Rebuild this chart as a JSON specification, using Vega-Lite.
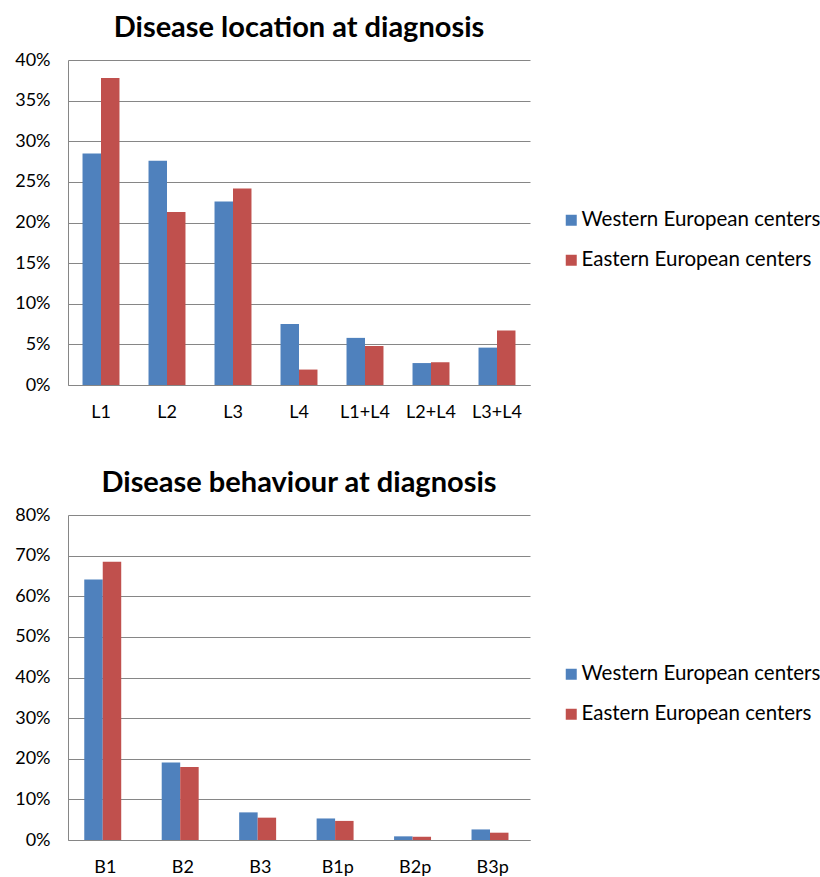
{
  "$schema": "https://vega.github.io/schema/vega-lite/v6.json",
  "background": "white",
  "padding": {"left": 14, "top": 14, "right": 0, "bottom": 0},
  "spacing": 48,
  "datasets": {
    "location": [
      {"site": "L1", "cohort": "Western European centers", "share": 28.5},
      {"site": "L1", "cohort": "Eastern European centers", "share": 37.8},
      {"site": "L2", "cohort": "Western European centers", "share": 27.6},
      {"site": "L2", "cohort": "Eastern European centers", "share": 21.3},
      {"site": "L3", "cohort": "Western European centers", "share": 22.6},
      {"site": "L3", "cohort": "Eastern European centers", "share": 24.2},
      {"site": "L4", "cohort": "Western European centers", "share": 7.5},
      {"site": "L4", "cohort": "Eastern European centers", "share": 1.9},
      {"site": "L1+L4", "cohort": "Western European centers", "share": 5.8},
      {"site": "L1+L4", "cohort": "Eastern European centers", "share": 4.8},
      {"site": "L2+L4", "cohort": "Western European centers", "share": 2.7},
      {"site": "L2+L4", "cohort": "Eastern European centers", "share": 2.8},
      {"site": "L3+L4", "cohort": "Western European centers", "share": 4.6},
      {"site": "L3+L4", "cohort": "Eastern European centers", "share": 6.7}
    ],
    "behaviour": [
      {"type": "B1", "cohort": "Western European centers", "share": 64.1},
      {"type": "B1", "cohort": "Eastern European centers", "share": 68.5},
      {"type": "B2", "cohort": "Western European centers", "share": 19.1},
      {"type": "B2", "cohort": "Eastern European centers", "share": 18.0},
      {"type": "B3", "cohort": "Western European centers", "share": 6.8},
      {"type": "B3", "cohort": "Eastern European centers", "share": 5.5},
      {"type": "B1p", "cohort": "Western European centers", "share": 5.3},
      {"type": "B1p", "cohort": "Eastern European centers", "share": 4.7},
      {"type": "B2p", "cohort": "Western European centers", "share": 0.9},
      {"type": "B2p", "cohort": "Eastern European centers", "share": 0.8},
      {"type": "B3p", "cohort": "Western European centers", "share": 2.6},
      {"type": "B3p", "cohort": "Eastern European centers", "share": 1.8}
    ]
  },
  "resolve": {"scale": {"color": "independent"}, "legend": {"color": "independent"}},
  "vconcat": [
    {
      "title": {"text": "Disease location at diagnosis"},
      "width": 462,
      "height": 325,
      "data": {"name": "location"},
      "mark": {"type": "bar"},
      "encoding": {
        "x": {
          "field": "site", "type": "nominal",
          "sort": ["L1", "L2", "L3", "L4", "L1+L4", "L2+L4", "L3+L4"],
          "scale": {"paddingInner": 0.44, "paddingOuter": 0.22},
          "axis": {"title": null, "labelAngle": 0, "ticks": false, "labelPadding": 18}
        },
        "xOffset": {
          "field": "cohort", "type": "nominal",
          "sort": ["Western European centers", "Eastern European centers"]
        },
        "y": {
          "field": "share", "type": "quantitative",
          "scale": {"domain": [0, 40], "nice": false},
          "axis": {"title": null, "values": [0, 5, 10, 15, 20, 25, 30, 35, 40], "labelExpr": "datum.value + '%'"}
        },
        "color": {
          "field": "cohort", "type": "nominal",
          "sort": ["Western European centers", "Eastern European centers"],
          "scale": {"range": ["#4F81BD", "#C0504D"]},
          "legend": {"title": null, "orient": "none", "legendX": 493, "legendY": 150}
        }
      }
    },
    {
      "title": {"text": "Disease behaviour at diagnosis"},
      "width": 462,
      "height": 325,
      "data": {"name": "behaviour"},
      "mark": {"type": "bar"},
      "encoding": {
        "x": {
          "field": "type", "type": "nominal",
          "sort": ["B1", "B2", "B3", "B1p", "B2p", "B3p"],
          "scale": {"paddingInner": 0.455, "paddingOuter": 0.21},
          "axis": {"title": null, "labelAngle": 0, "ticks": false, "labelPadding": 18}
        },
        "xOffset": {
          "field": "cohort", "type": "nominal",
          "sort": ["Western European centers", "Eastern European centers"]
        },
        "y": {
          "field": "share", "type": "quantitative",
          "scale": {"domain": [0, 80], "nice": false},
          "axis": {"title": null, "values": [0, 10, 20, 30, 40, 50, 60, 70, 80], "labelExpr": "datum.value + '%'"}
        },
        "color": {
          "field": "cohort", "type": "nominal",
          "sort": ["Western European centers", "Eastern European centers"],
          "scale": {"range": ["#4F81BD", "#C0504D"]},
          "legend": {"title": null, "orient": "none", "legendX": 493, "legendY": 149}
        }
      }
    }
  ],
  "config": {
    "font": "Lato",
    "view": {"stroke": null},
    "title": {"font": "Lato", "fontSize": 29, "fontWeight": "bold", "color": "#000000", "anchor": "middle", "offset": 8},
    "axis": {
      "labelFont": "Lato", "labelFontSize": 18, "labelColor": "#000000",
      "domainColor": "#868686", "gridColor": "#868686", "tickColor": "#868686"
    },
    "axisX": {"grid": false, "domain": true},
    "axisY": {"grid": true, "domain": true, "ticks": false, "labelPadding": 18},
    "legend": {
      "labelFont": "Lato", "labelFontSize": 20.5, "labelColor": "#000000", "labelLimit": 400,
      "symbolType": "square", "symbolSize": 121, "symbolStrokeWidth": 0,
      "rowPadding": 19, "padding": 0, "labelOffset": 0
    }
  }
}
